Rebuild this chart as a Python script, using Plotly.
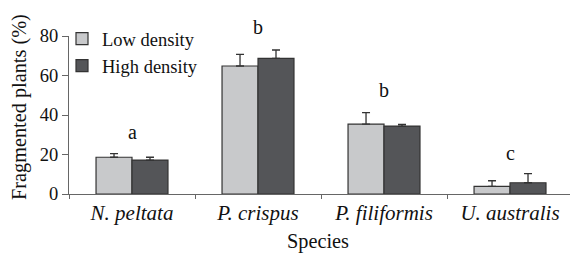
import plotly.graph_objects as go

species = ["<i>N. peltata</i>", "<i>P. crispus</i>", "<i>P. filiformis</i>", "<i>U. australis</i>"]
low_density = [18.6, 64.8, 35.4, 3.9]
low_err = [1.8, 5.9, 5.8, 2.8]
high_density = [17.2, 68.7, 34.4, 5.7]
high_err = [1.4, 4.2, 0.9, 4.6]
letters = ["a", "b", "b", "c"]
letter_y = [31.5, 84.5, 52.7, 20.9]

FONT = "Liberation Serif"
YMAX = 80

fig = go.Figure()
fig.add_trace(go.Bar(
    x=species, y=low_density, name="Low density",
    marker=dict(color="#c8c9cb", line=dict(color="#333333", width=1.2)),
    error_y=dict(type="data", array=low_err, arrayminus=[0]*4, symmetric=False,
                 color="#333333", thickness=1.3, width=4),
))
fig.add_trace(go.Bar(
    x=species, y=high_density, name="High density",
    marker=dict(color="#545558", line=dict(color="#333333", width=1.2)),
    error_y=dict(type="data", array=high_err, arrayminus=[0]*4, symmetric=False,
                 color="#333333", thickness=1.3, width=4),
))

for s, t, yv in zip(species, letters, letter_y):
    fig.add_annotation(x=s, xref="x", y=yv / YMAX, yref="paper", text=t,
                       showarrow=False, yanchor="middle",
                       font=dict(family=FONT, size=20, color="#111111"))

# axis titles
fig.add_annotation(text="Fragmented plants (%)", textangle=-90, showarrow=False,
                   xref="paper", x=-49 / 501, xanchor="center",
                   yref="paper", y=(194 - 107) / 158, yanchor="middle",
                   font=dict(family=FONT, size=20.3, color="#111111"))
fig.add_annotation(text="Species", showarrow=False,
                   xref="paper", x=(318 - 69) / 501, xanchor="center",
                   yref="paper", y=-(241 - 194) / 158, yanchor="middle",
                   font=dict(family=FONT, size=20.3, color="#111111"))

fig.update_layout(
    width=570, height=253,
    margin=dict(l=69, r=0, t=36, b=59, autoexpand=False),
    paper_bgcolor="white", plot_bgcolor="white",
    barmode="group", bargap=0.429, bargroupgap=0,
    font=dict(family=FONT, size=18, color="#111111"),
    showlegend=True,
    legend=dict(x=62 / 570, xref="container", y=1 - 20 / 253, yref="container",
                xanchor="left", yanchor="top",
                bgcolor="rgba(0,0,0,0)", font=dict(family=FONT, size=18.5),
                itemwidth=30, tracegroupgap=0),
    xaxis=dict(
        range=[-0.5, 3.476], showline=True, linecolor="#666666", linewidth=1.3,
        ticks="outside", tickson="boundaries", ticklen=4, tickcolor="#666666",
        tickfont=dict(family=FONT, size=21), automargin=False,
        showgrid=False, zeroline=False,
    ),
    yaxis=dict(
        range=[0, YMAX], tickvals=[0, 20, 40, 60, 80], showline=True,
        linecolor="#666666", linewidth=1.3, ticks="outside", ticklen=6,
        tickcolor="#666666", tickfont=dict(family=FONT, size=18.5), automargin=False,
        showgrid=False, zeroline=False,
    ),
)
fig.update_traces(cliponaxis=False)

fig.write_html("out.html", config={"displayModeBar": False},
               post_script="document.body.style.margin='0';")
